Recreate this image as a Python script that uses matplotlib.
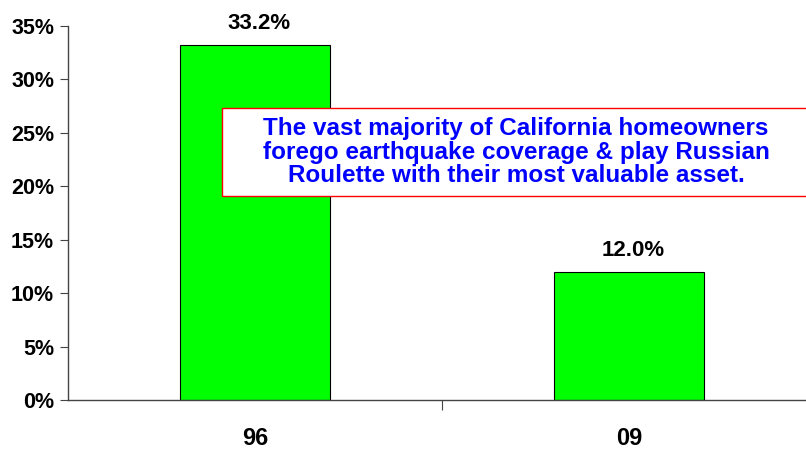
import matplotlib.pyplot as plt
from matplotlib.patches import Rectangle
from matplotlib.ticker import FuncFormatter

# data
years = ["96", "09"]
share = [33.2, 12.0]
note = ("The vast majority of California homeowners\n"
        "forego earthquake coverage & play Russian\n"
        "Roulette with their most valuable asset.")

plt.rcParams['font.family'] = ['Liberation Sans', 'DejaVu Sans']

fig = plt.figure(figsize=(8.06, 4.51), dpi=100)
fig.patch.set_facecolor("white")
ax = fig.add_axes([0.0844, 0.112, 0.928, 0.8306])

xs = list(range(len(years)))
bars = ax.bar(xs, share, width=0.4, color="#00ff00", edgecolor="black", linewidth=0.8)

for x, v in zip(xs, share):
    ax.annotate("%.1f%%" % v, (x, v), xytext=(3, 8), textcoords="offset points",
                ha="center", va="bottom", fontsize=16, fontweight="bold")

ax.set_xlim(-0.5, 1.5)
ax.set_ylim(0, 35)
ax.set_yticks(range(0, 36, 5))
ax.yaxis.set_major_formatter(FuncFormatter(lambda v, p: "%d%%" % v))

# boundary tick between the categories, labels on minor ticks
ax.set_xticks([0.5])
ax.set_xticklabels([""])
ax.set_xticks(xs, minor=True)
ax.set_xticklabels(years, minor=True)
ax.tick_params(axis="x", which="major", direction="out", length=7, color="#444444")
ax.tick_params(axis="x", which="minor", length=0, pad=19, labelsize=17)
ax.tick_params(axis="y", direction="out", length=6, color="#444444", pad=4, labelsize=15.5)
for lbl in ax.get_xticklabels(minor=True) + ax.get_yticklabels():
    lbl.set_fontweight("bold")

for s in ["top", "right"]:
    ax.spines[s].set_visible(False)
for s in ["left", "bottom"]:
    ax.spines[s].set_color("#444444")
    ax.spines[s].set_linewidth(1)

# callout box running off the right edge
box = Rectangle((222 / 806, 1 - 196 / 451), 588 / 806, 88 / 451, transform=fig.transFigure,
                facecolor="white", edgecolor="red", linewidth=1, zorder=5)
fig.patches.append(box)
fig.text(516 / 806, 1 - 152 / 451, note, ha="center", va="center", color="#0000ff",
         fontsize=17.5, fontweight="bold", linespacing=1.04, zorder=6)

fig.savefig("out.png", dpi=100)
